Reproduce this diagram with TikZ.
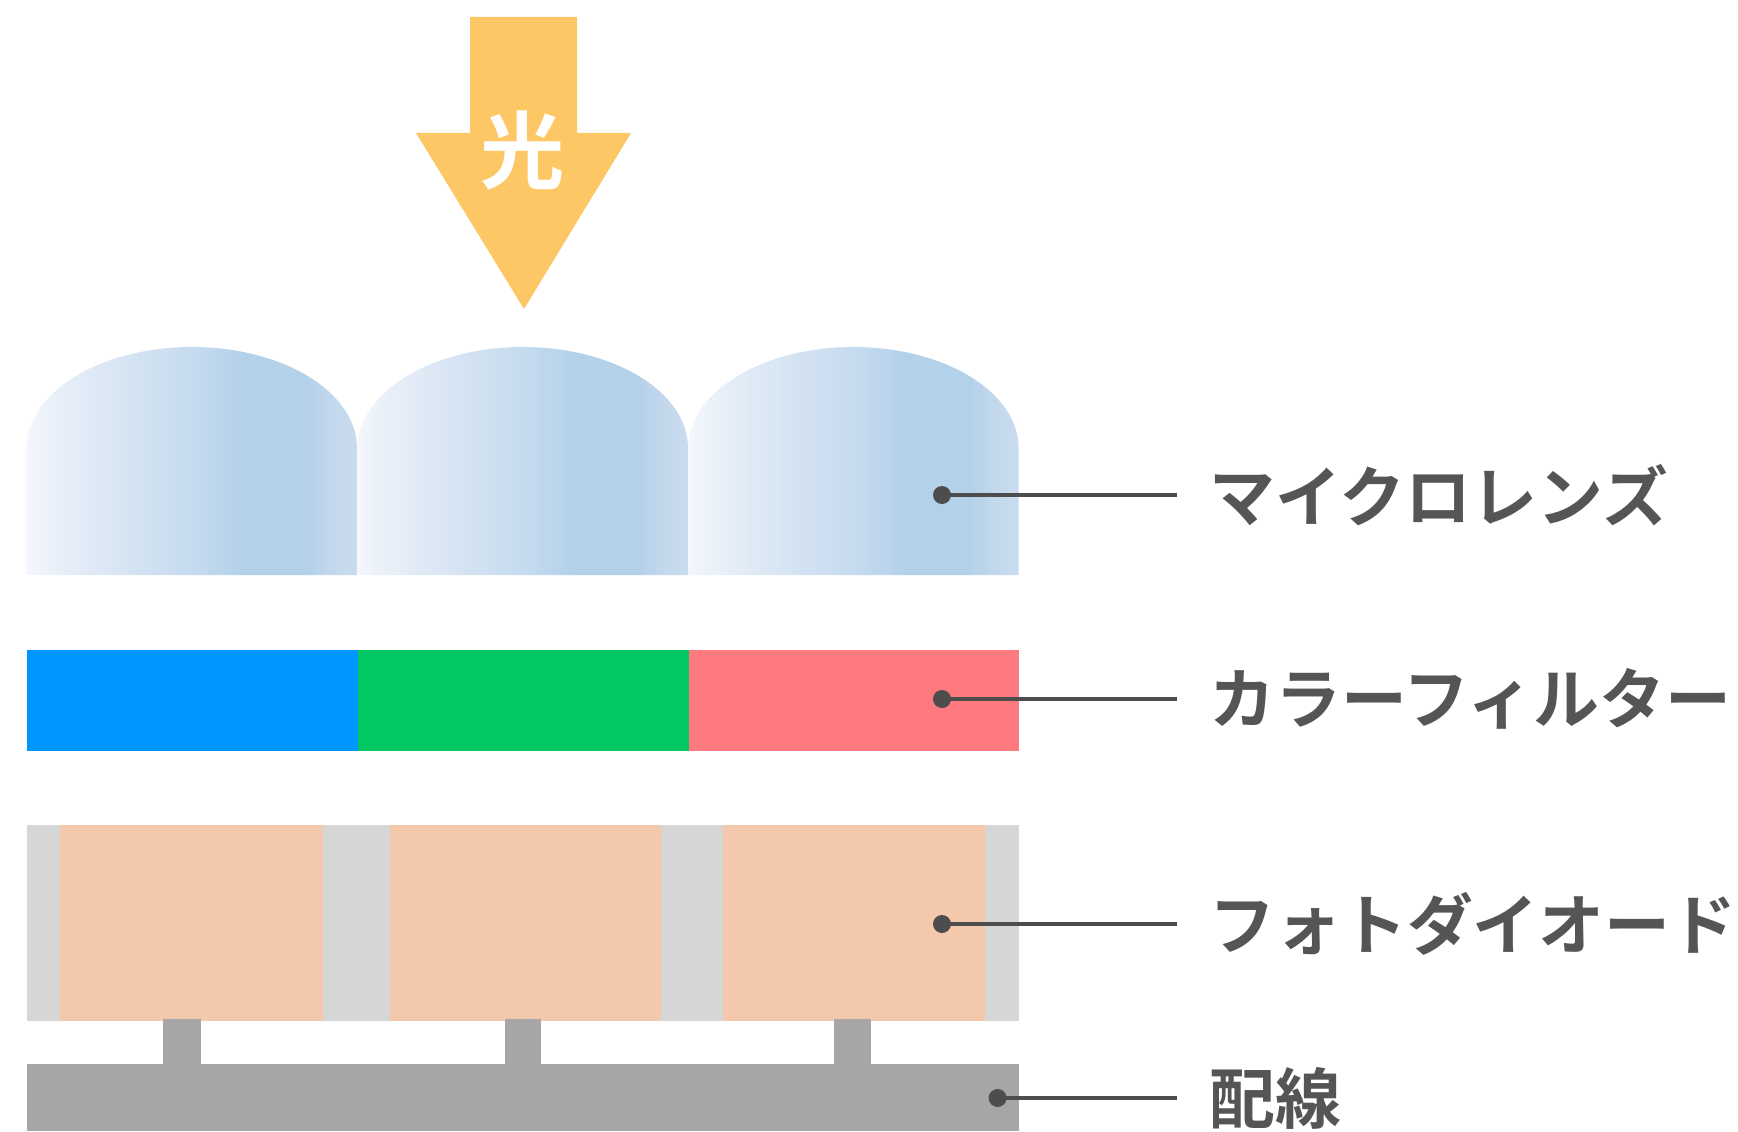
\documentclass[tikz,border=0pt]{standalone}
\usepackage{fontspec}
\newfontfamily\jp{Noto Sans CJK JP Bold}

\definecolor{arrowc}{HTML}{FEC766}
\definecolor{lensA}{HTML}{F4F7FC}
\definecolor{lensB}{HTML}{E8EFF8}
\definecolor{lensC}{HTML}{D6E4F3}
\definecolor{lensD}{HTML}{C6DBEF}
\definecolor{lensE}{HTML}{B4D1EA}
\definecolor{lensF}{HTML}{C4D8EC}
\definecolor{lensG}{HTML}{C9DCEF}
\definecolor{fblue}{HTML}{0096FF}
\definecolor{fgreen}{HTML}{00C864}
\definecolor{fred}{HTML}{FF7A7E}
\definecolor{pdgray}{HTML}{D6D6D6}
\definecolor{pdorange}{HTML}{F4C8AA}
\definecolor{wiregray}{HTML}{A6A6A6}
\definecolor{leadc}{HTML}{4D4D4D}
\definecolor{labelc}{HTML}{555555}

% horizontal shading of a micro lens (colours between 25bp and 75bp span the shape)
\pgfdeclarehorizontalshading{lensshade}{100bp}{%
  color(0bp)=(lensA); color(25bp)=(lensA); color(30bp)=(lensB);
  color(40bp)=(lensC); color(50bp)=(lensD); color(57.5bp)=(lensE);
  color(67.5bp)=(lensE); color(71.5bp)=(lensF); color(75bp)=(lensG);
  color(100bp)=(lensG)}

\tikzset{
  leaddot/.style={circle, fill=leadc, inner sep=0pt, minimum size=0.36cm},
  leader/.style={draw=leadc, line width=2.2pt},
  partlabel/.style={anchor=west, inner xsep=0.64cm, inner ysep=0pt,
    text=labelc, font=\jp\fontsize{37.5}{37.5}\selectfont},
}

\begin{document}
\begin{tikzpicture}[x=0.02cm, y=-0.02cm]
\useasboundingbox (0,0) rectangle (1738,1132);

% incoming light
\fill[arrowc] (470,17) -- (577,17) -- (577,133) -- (631,133) -- (524,309)
  -- (416,133) -- (470,133) -- cycle;
\node[text=white, font=\jp\fontsize{48}{48}\selectfont] (light) at (523,150) {光};

% micro lenses
\foreach \x in {26.6, 357.6, 688.2} {
  \shade[shading=lensshade] (\x,575) -- (\x,448)
    arc[start angle=180, end angle=360, x radius=165.2, y radius=101]
    -- (\x+330.4,575) -- cycle;
}

% colour filters
\fill[fblue]  (26.6,650) rectangle (358,751);
\fill[fgreen] (358,650) rectangle (688.5,751);
\fill[fred]   (688.5,650) rectangle (1018.6,751);

% photodiodes
\fill[pdgray] (26.6,825) rectangle (1018.6,1021);
\fill[pdorange] (60,825) rectangle (322.5,1021);
\fill[pdorange] (390,825) rectangle (660.6,1021);
\fill[pdorange] (722.7,825) rectangle (985.4,1021);

% wiring
\fill[wiregray] (162.5,1019) rectangle (200.5,1066);
\fill[wiregray] (505,1019) rectangle (540.5,1066);
\fill[wiregray] (834,1019) rectangle (870.7,1066);
\fill[wiregray] (26.6,1064) rectangle (1018.6,1131);

% labels with leaders
\node[leaddot] (d1) at (942,495) {};
\node[leaddot] (d2) at (942,699) {};
\node[leaddot] (d3) at (942,924) {};
\node[leaddot] (d4) at (997.6,1098) {};

\node[partlabel] (t1) at (1177,495) {マイクロレンズ};
\node[partlabel] (t2) at (1177,699) {カラーフィルター};
\node[partlabel] (t3) at (1177,924) {フォトダイオード};
\node[partlabel] (t4) at (1177,1098) {配線};

\draw[leader] (d1.center) -- (t1.west);
\draw[leader] (d2.center) -- (t2.west);
\draw[leader] (d3.center) -- (t3.west);
\draw[leader] (d4.center) -- (t4.west);
\end{tikzpicture}
\end{document}
